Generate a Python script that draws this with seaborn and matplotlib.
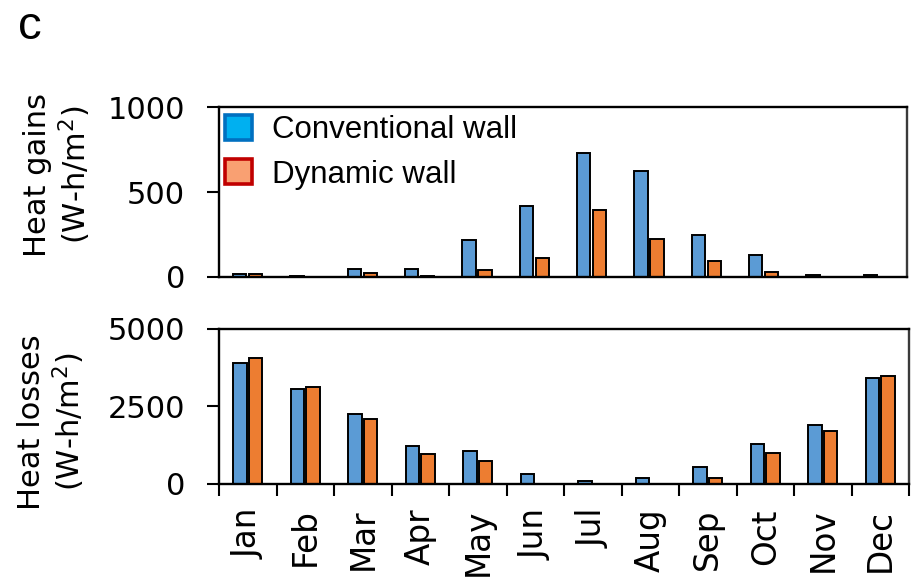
import numpy as np
import pandas as pd
import matplotlib
matplotlib.use("Agg")
import matplotlib.pyplot as plt
from matplotlib.patches import Patch
import seaborn as sns

months = ["Jan", "Feb", "Mar", "Apr", "May", "Jun",
          "Jul", "Aug", "Sep", "Oct", "Nov", "Dec"]
series = ["Conventional wall", "Dynamic wall"]

# Monthly heat gains (W-h/m2)
gains_conventional = [20, 8, 50, 50, 218, 418, 729, 624, 249, 129, 10, 10]
gains_dynamic = [15, 2, 22, 8, 40, 110, 392, 224, 96, 29, 0, 0]

# Monthly heat losses (W-h/m2)
losses_conventional = [3908, 3046, 2236, 1209, 1058, 302, 97, 172, 538, 1263, 1889, 3402]
losses_dynamic = [4050, 3120, 2094, 960, 733, 0, 0, 0, 172, 992, 1695, 3477]

gain_ticks = [0, 500, 1000]
loss_ticks = [0, 2500, 5000]


def long_table(conv, dyn):
    return pd.DataFrame({
        "month": months * 2,
        "series": [series[0]] * 12 + [series[1]] * 12,
        "value": list(conv) + list(dyn),
    })


gains = long_table(gains_conventional, gains_dynamic)
losses = long_table(losses_conventional, losses_dynamic)

sns.set_theme(style="white")
plt.rcParams["font.family"] = ["DejaVu Sans"]
plt.rcParams["text.color"] = "black"
plt.rcParams["axes.labelcolor"] = "black"
plt.rcParams["xtick.color"] = "black"
plt.rcParams["ytick.color"] = "black"

bar_colors = ["#5B9BD5", "#ED7D31"]

fig = plt.figure(figsize=(9.16, 5.78), dpi=100)
ax_top = fig.add_axes([219 / 916, 1 - 277 / 578, 688 / 916, 170 / 578])
ax_bot = fig.add_axes([219 / 916, 1 - 483.5 / 578, 690 / 916, 154.5 / 578])

for ax, data in ((ax_top, gains), (ax_bot, losses)):
    sns.barplot(data=data, x="month", y="value", hue="series",
                order=months, hue_order=series, palette=bar_colors,
                saturation=1, width=0.55, gap=0.15, edgecolor="black",
                linewidth=1.4, errorbar=None, legend=False, ax=ax)
    ax.set_xlim(-0.5, 11.5)
    ax.set_xlabel("")
    ax.set_ylabel("")
    for side in ("left", "top", "bottom"):
        ax.spines[side].set_linewidth(1.7)
        ax.spines[side].set_color("black")
    ax.spines["right"].set_linewidth(1.7)
    ax.spines["right"].set_color("#3a3a3a")
    ax.tick_params(axis="y", direction="out", length=8.5, width=1.5,
                   color="black", labelcolor="black", pad=16,
                   labelsize=22, left=True)
    ax.grid(False)

ax_top.set_ylim(0, 1000)
ax_top.set_yticks(gain_ticks)
ax_top.set_xticks([])

ax_bot.set_ylim(0, 5000)
ax_bot.set_yticks(loss_ticks)
ax_bot.set_xticks(np.arange(-0.5, 12.0, 1.0))
ax_bot.set_xticklabels([])
ax_bot.set_xticks(np.arange(12), minor=True)
ax_bot.set_xticklabels(months, minor=True, rotation=90, fontsize=23.5)
ax_bot.tick_params(axis="x", which="major", direction="out", length=8.5,
                   width=1.5, color="black", bottom=True)
ax_bot.tick_params(axis="x", which="minor", length=0, pad=18, bottom=True,
                   labelcolor="black")

# Legend with its own swatch styling
handles = [
    Patch(facecolor="#00B0F0", edgecolor="#0070C0", linewidth=2.6),
    Patch(facecolor="#F9A072", edgecolor="#C00000", linewidth=2.6),
]
ax_top.legend(handles, series, loc="upper left",
              bbox_to_anchor=(6 / 688, 1 - 8 / 170), frameon=False,
              prop={"family": "Liberation Sans", "size": 22.5},
              labelcolor="black",
              handlelength=0.85, handleheight=0.85, handletextpad=0.65,
              labelspacing=0.45, borderpad=0, borderaxespad=0)

fig.text(58 / 916, 1 - 175 / 578, "Heat gains\n(W-h/m$^2$)", rotation=90,
         ha="center", va="center", fontsize=22, linespacing=1.15,
         multialignment="center", color="black")
fig.text(52 / 916, 1 - 422 / 578, "Heat losses\n(W-h/m$^2$)", rotation=90,
         ha="center", va="center", fontsize=22, linespacing=1.15,
         multialignment="center", color="black")
fig.text(30 / 916, 1 - 27 / 578, "c", ha="center", va="center",
         fontsize=34, family="Liberation Sans", color="black")

fig.savefig("out.png", dpi=100, facecolor="white")
